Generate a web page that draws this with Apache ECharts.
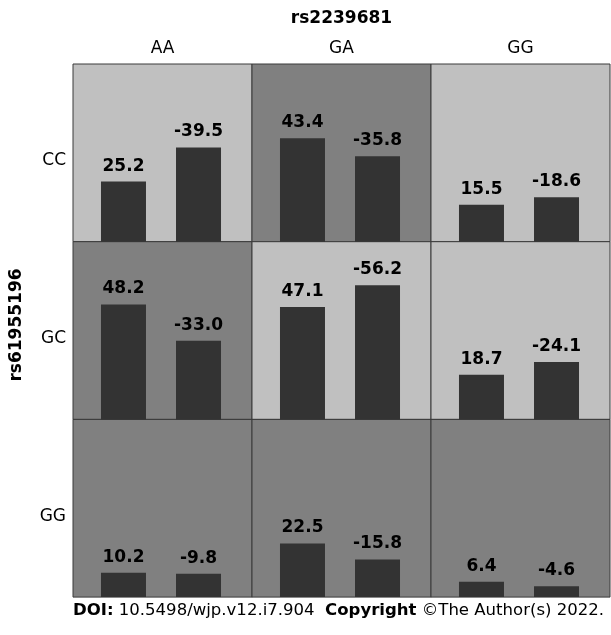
<!DOCTYPE html>
<html>
<head>
<meta charset="utf-8">
<script src="https://cdn.jsdelivr.net/npm/echarts@6/dist/echarts.min.js"></script>
<style>html,body{margin:0;padding:0;background:#fff;}#main{width:611px;height:635px;}</style>
</head>
<body>
<div id="main"></div>
<script>
// Data
var rowLabels = ['CC', 'GC', 'GG'];          // rs61955196 genotypes
var colLabels = ['AA', 'GA', 'GG'];          // rs2239681 genotypes
var firstBar = [                              // per row, per column
  [25.2, 43.4, 15.5],
  [48.2, 47.1, 18.7],
  [10.2, 22.5, 6.4]
];
var secondBar = [
  [-39.5, -35.8, -18.6],
  [-33.0, -56.2, -24.1],
  [-9.8, -15.8, -4.6]
];
var shade = [                                 // 1 = light panel, 0 = dark panel
  [1, 0, 1],
  [0, 1, 1],
  [0, 0, 0]
];
var xTitle = 'rs2239681';
var yTitle = 'rs61955196';

var FONT = 'DejaVu Sans';
var gx0 = 73, gy0 = 64, cw = 179, rh = 177.7;
var grids = [], xAxes = [], yAxes = [], series = [], graphics = [];
var idx = 0;
for (var r = 0; r < 3; r++) {
  for (var c = 0; c < 3; c++) {
    grids.push({
      left: gx0 + c * cw, top: gy0 + r * rh, width: cw, height: rh,
      show: true, backgroundColor: shade[r][c] ? '#c0c0c0' : '#808080',
      borderColor: '#3a3a3a', borderWidth: 1
    });
    xAxes.push({ type: 'value', gridIndex: idx, min: 0.327, max: 2.713, show: false });
    yAxes.push({ type: 'value', gridIndex: idx, min: 0, max: 74.5, show: false });
    var vals = [firstBar[r][c], secondBar[r][c]];
    series.push({
      type: 'bar', xAxisIndex: idx, yAxisIndex: idx, barWidth: 45,
      itemStyle: { color: '#333333' },
      data: vals.map(function (v, i) { return { value: [i + 1, Math.abs(v)], signed: v }; }),
      label: {
        show: true, position: 'top', distance: 7,
        fontFamily: FONT, fontWeight: 'bold', fontSize: 17, color: '#000',
        formatter: function (p) { return p.data.signed.toFixed(1); }
      },
      animation: false
    });
    idx++;
  }
}
colLabels.forEach(function (t, c) {
  graphics.push({ type: 'text', x: gx0 + c * cw + cw / 2, y: 49,
    style: { text: t, fontFamily: FONT, fontSize: 17, fill: '#000', textAlign: 'center', textVerticalAlign: 'middle', align: 'center', verticalAlign: 'middle' } });
});
rowLabels.forEach(function (t, r) {
  graphics.push({ type: 'text', x: 66, y: gy0 + r * rh + rh / 2 + 8,
    style: { text: t, fontFamily: FONT, fontSize: 17, fill: '#000', textAlign: 'right', textVerticalAlign: 'middle', align: 'right', verticalAlign: 'middle' } });
});
graphics.push({ type: 'text', x: gx0 + 1.5 * cw, y: 19,
  style: { text: xTitle, fontFamily: FONT, fontSize: 17, fontWeight: 'bold', fill: '#000', textAlign: 'center', textVerticalAlign: 'middle', align: 'center', verticalAlign: 'middle' } });
graphics.push({ type: 'text', x: 17, y: 325, rotation: Math.PI / 2,
  style: { text: yTitle, fontFamily: FONT, fontSize: 17, fontWeight: 'bold', fill: '#000', textAlign: 'center', textVerticalAlign: 'middle', align: 'center', verticalAlign: 'middle' } });
graphics.push({ type: 'text', x: 73, y: 611,
  style: { text: '{b|DOI:} 10.5498/wjp.v12.i7.904  {b|Copyright} \u00A9The Author(s) 2022.',
    fontFamily: FONT, fontSize: 16.55, fill: '#000', textAlign: 'left', textVerticalAlign: 'middle', align: 'left', verticalAlign: 'middle',
    rich: { b: { fontFamily: FONT, fontSize: 16.55, fontWeight: 'bold', fill: '#000', color: '#000' } } } });

var chart = echarts.init(document.getElementById('main'), null, { renderer: 'canvas' });
chart.setOption({
  animation: false,
  backgroundColor: '#ffffff',
  grid: grids, xAxis: xAxes, yAxis: yAxes, series: series,
  graphic: graphics
});
</script>
</body>
</html>
